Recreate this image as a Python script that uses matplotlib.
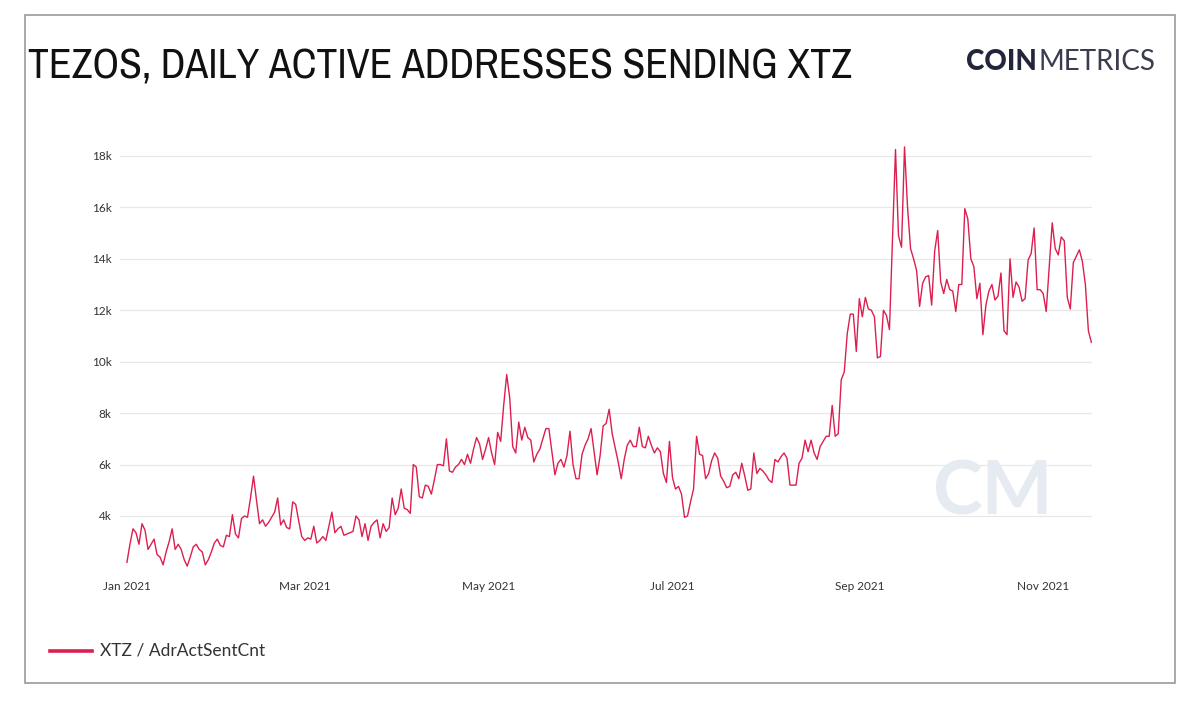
import matplotlib
matplotlib.use("Agg")
from matplotlib import pyplot as plt
from matplotlib import font_manager as fm
from matplotlib.patches import Rectangle
from matplotlib.lines import Line2D
import matplotlib.dates as mdates
import numpy as np
import pandas as pd

# daily active addresses sending XTZ, thousands, starting 2021-01-01
start_date = "2021-01-01"
jan_feb = [2.2, 2.9, 3.5, 3.35, 2.9, 3.7, 3.45, 2.7, 2.9, 3.1, 2.5, 2.4, 2.1, 2.6, 3.0,
           3.5, 2.7, 2.9, 2.7, 2.3, 2.05, 2.4, 2.8, 2.9, 2.7, 2.6, 2.1, 2.3, 2.6, 2.95,
           3.1, 2.85, 2.8, 3.25, 3.2, 4.05, 3.3, 3.15, 3.9, 4.0, 3.95, 4.7, 5.55, 4.6,
           3.7, 3.85, 3.6, 3.75, 3.95, 4.15, 4.7, 3.65, 3.85, 3.55, 3.5, 4.55, 4.45,
           3.8, 3.2]
mar_apr = [3.05, 3.15, 3.1, 3.6, 2.95, 3.05, 3.2, 3.05, 3.6, 4.15, 3.35, 3.5, 3.6,
           3.25, 3.3, 3.35, 3.4, 4.0, 3.85, 3.2, 3.7, 3.05, 3.6, 3.75, 3.85, 3.15, 3.7,
           3.4, 3.55, 4.7, 4.05, 4.3, 5.05, 4.3, 4.25, 4.1, 6.0, 5.9, 4.75, 4.7, 5.2,
           5.15, 4.85, 5.4, 6.0, 6.0, 5.95, 7.0, 5.75, 5.7, 5.9, 6.0, 6.2, 6.0, 6.4,
           6.05, 6.6, 7.05, 6.8, 6.2, 6.6]
may_jun = [7.05, 6.45, 6.0, 7.25, 6.9, 8.3, 9.5, 8.6, 6.7, 6.45, 7.65, 6.95, 7.45,
           7.05, 6.95, 6.1, 6.4, 6.6, 7.0, 7.4, 7.4, 6.5, 5.6, 6.05, 6.2, 5.9, 6.35,
           7.3, 6.0, 5.45, 5.45, 6.4, 6.75, 7.0, 7.4, 6.5, 5.6, 6.35, 7.5, 7.6, 8.15,
           7.2, 6.65, 6.1, 5.45, 6.2, 6.75, 6.95, 6.7, 6.7, 7.45, 6.7, 6.65, 7.1, 6.75,
           6.45, 6.65, 6.5, 5.65, 5.3, 6.9]
jul_aug = [5.5, 5.05, 5.15, 4.85, 3.95, 4.0, 4.55, 5.05, 7.1, 6.4, 6.35, 5.45, 5.65,
           6.15, 6.45, 6.25, 5.55, 5.35, 5.1, 5.15, 5.6, 5.7, 5.45, 6.05, 5.55, 5.0,
           5.05, 6.45, 5.65, 5.85, 5.75, 5.6, 5.4, 5.3, 6.2, 6.1, 6.3, 6.45, 6.25, 5.2,
           5.2, 5.2, 6.05, 6.25, 6.95, 6.5, 6.95, 6.45, 6.2, 6.7, 6.9, 7.1, 7.1, 8.3,
           7.1, 7.2, 9.3, 9.6, 11.1, 11.85, 11.85, 10.4]
sep_oct = [12.45, 11.75, 12.5, 12.05, 12.0, 11.75, 10.15, 10.2, 12.0, 11.8, 11.25,
           14.7, 18.25, 14.9, 14.45, 18.35, 16.0, 14.4, 14.0, 13.55, 12.15, 13.05,
           13.3, 13.35, 12.2, 14.3, 15.1, 13.1, 12.65, 13.2, 12.8, 12.75, 11.95, 13.0,
           13.0, 15.95, 15.55, 14.0, 13.7, 12.45, 13.05, 11.05, 12.2, 12.75, 13.0, 12.4,
           12.55, 13.45, 11.2, 11.05, 14.0, 12.5, 13.1, 12.9, 12.35, 12.45, 13.95, 14.2,
           15.2, 12.8, 12.8]
nov = [12.65, 11.95, 13.7, 15.4, 14.4, 14.15, 14.85, 14.7, 12.5, 12.05, 13.85, 14.1,
       14.35, 13.9, 13.0, 11.2, 10.75]

series_name = "XTZ / AdrActSentCnt"
title = "TEZOS, DAILY ACTIVE ADDRESSES SENDING XTZ"
tick_dates = ["2021-01-01", "2021-03-01", "2021-05-01", "2021-07-01", "2021-09-01", "2021-11-01"]
y_ticks = [4000, 6000, 8000, 10000, 12000, 14000, 16000, 18000]

values = np.array(jan_feb + mar_apr + may_jun + jul_aug + sep_oct + nov) * 1000
dates = pd.date_range(start_date, periods=len(values), freq="D")

line_color = "#dc1f4f"
text_color = "#333333"
logo_color = "#23263a"

# look for a condensed face for the title, else fall back to Lato
title_font, title_stretch = "Lato", "normal"
for f in fm.fontManager.ttflist:
    low = f.name.lower()
    if "narrow" in low or "condensed" in low:
        title_font = f.name
        break
    if f.stretch not in ("normal", 500) and "sans" in low:
        title_font, title_stretch = f.name, f.stretch

W, H = 1200, 708
fig = plt.figure(figsize=(W / 100, H / 100), dpi=100)

# outer border
fig.patches.append(Rectangle((25 / W, 1 - 683 / H), 1150 / W, 668 / H, transform=fig.transFigure,
                             fill=False, edgecolor="#9a9a9a", linewidth=1.2))

ax = fig.add_axes([120 / W, 1 - 570 / H, 972 / W, 430 / H])
ax.plot(dates, values, color=line_color, linewidth=1.0)

x0 = pd.Timestamp(start_date)
ax.set_xlim(x0 - pd.Timedelta(days=2.3), dates[-1] + pd.Timedelta(days=0.2))
ax.set_ylim(1900, 18620)
ax.set_xticks(pd.to_datetime(tick_dates))
ax.xaxis.set_major_formatter(mdates.DateFormatter("%b %Y"))
ax.set_yticks(y_ticks)
ax.set_yticklabels([f"{v // 1000}k" for v in y_ticks])
ax.grid(axis="y", color="#e8e8e8", linewidth=0.9)
ax.set_axisbelow(True)
for s in ax.spines.values():
    s.set_visible(False)
ax.tick_params(axis="both", length=0, labelsize=8.5, labelcolor=text_color)
ax.tick_params(axis="x", pad=8)
ax.tick_params(axis="y", pad=6)
for lab in ax.get_xticklabels() + ax.get_yticklabels():
    lab.set_family("Lato")

# watermark
fig.text(992 / W, 1 - 493 / H, "CM", fontsize=54, family="Lato", weight="bold",
         color="#e6ebf2", ha="center", va="center", zorder=0)

# title, fitted to the reference width
t = fig.text(28 / W, 1 - 79 / H, title, fontsize=33, family=title_font, stretch=title_stretch,
             color="#111111", va="baseline", ha="left")
renderer = fig.canvas.get_renderer()
tw = t.get_window_extent(renderer).width
t.set_fontsize(min(36, 33 * 827 / tw))

# logo
c = fig.text(966 / W, 1 - 70 / H, "COIN", fontsize=20, family="Lato", weight="black",
             color=logo_color, va="baseline", ha="left")
cw = c.get_window_extent(renderer).x1
fig.text((cw + 2) / W, 1 - 70 / H, "METRICS", fontsize=20, family="Lato", weight="normal",
         color="#3a3d50", va="baseline", ha="left")

# legend
fig.lines.append(Line2D([50 / W, 92 / W], [1 - 651 / H] * 2, transform=fig.transFigure,
                        color=line_color, linewidth=2.6))
fig.text(100 / W, 1 - 651 / H, series_name, fontsize=12.5, family="Lato", color=text_color,
         va="center", ha="left")

fig.savefig("out.png", dpi=100)
